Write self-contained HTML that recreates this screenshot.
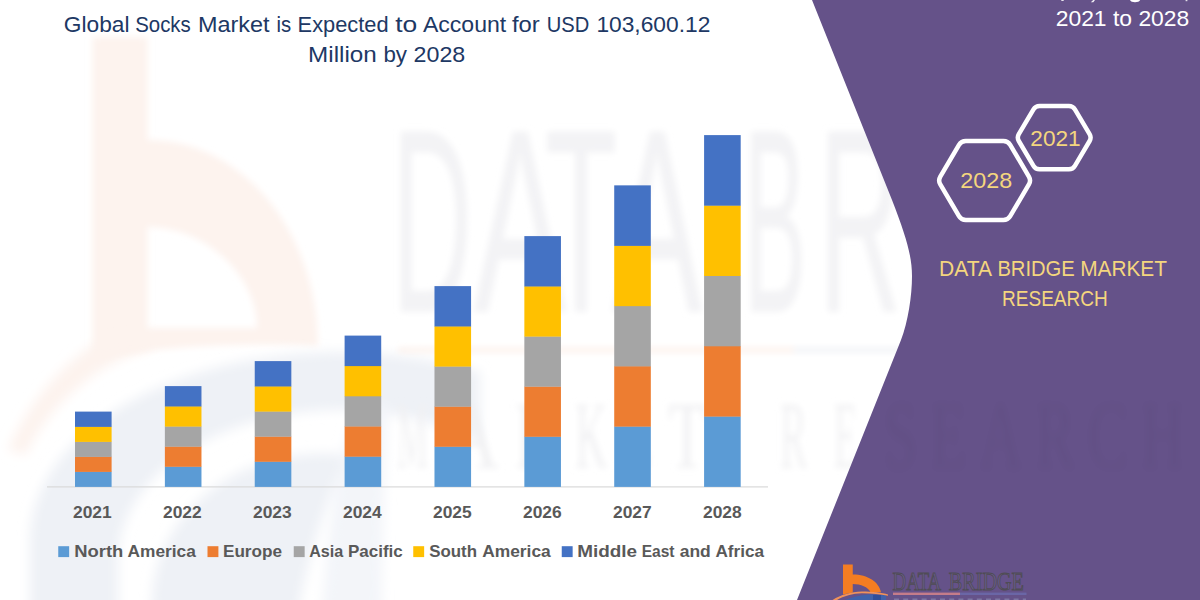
<!DOCTYPE html>
<html><head><meta charset="utf-8"><title>Global Socks Market</title>
<style>
html,body{margin:0;padding:0;background:#fff;}
body{width:1200px;height:600px;overflow:hidden;position:relative;font-family:"Liberation Sans",sans-serif;}
svg{position:absolute;left:0;top:0;display:block;}
text{font-family:"Liberation Sans",sans-serif;}
</style></head><body>
<svg width="1200" height="600" viewBox="0 0 1200 600">
<defs>
<filter id="b6" x="-20%" y="-20%" width="140%" height="140%"><feGaussianBlur stdDeviation="3.4"/></filter>
<filter id="b8" x="-20%" y="-20%" width="140%" height="140%"><feGaussianBlur stdDeviation="6"/></filter>
<filter id="b3" x="-20%" y="-20%" width="140%" height="140%"><feGaussianBlur stdDeviation="3"/></filter>
</defs>
<rect width="1200" height="600" fill="#ffffff"/>
<!-- watermark -->
<g id="wm">

<g filter="url(#b6)">
<!-- b stem + quarter-ring bowl (peach) -->
<path d="M92.5,37 L147.5,37 L147.5,140 C245,140 318,235 318,346 C250,343 150,345 92.5,362 Z M147.5,227 L147.5,328 L257,328 C257,275 205,227 147.5,227 Z" fill="#FDF3EE" fill-rule="evenodd"/>
</g>
<g filter="url(#b8)">
<!-- orange swoosh left -->
<path d="M8,450 C30,400 60,368 92.5,345 L150,336 L150,350 C110,356 50,400 26,455 Z" fill="#FDF3EE"/>
<!-- blue swoosh: outer ring + inner band -->
<clipPath id="cpb"><rect x="0" y="300" width="480" height="400"/></clipPath>
<g clip-path="url(#cpb)" fill="#EEF1F6" fill-rule="evenodd">
<path d="M30,540 A310,188 0 0 1 650,540 L650,700 L30,700 Z M118,560 A222,150 0 0 1 562,560 L562,700 L118,700 Z"/>
<path d="M152,600 A170,150 0 0 1 345,455 C330,500 300,560 285,700 L152,700 Z"/>
<path d="M318,700 C322,560 335,480 352,420 L388,400 C384,470 380,600 382,700 Z" fill="#F3F5F9"/>
</g>
</g>
<g filter="url(#b3)" fill="#F1F1F3" font-family="Liberation Serif, serif">
<g transform="translate(0,311) scale(1,2.6)" font-size="100px" fill="#F3F3F5" stroke="#F3F3F5" stroke-width="1" stroke-linejoin="round" style="vector-effect:non-scaling-stroke">
<text x="392" y="0" textLength="80" lengthAdjust="spacingAndGlyphs" vector-effect="non-scaling-stroke">D</text>
<text x="474" y="0" textLength="92" lengthAdjust="spacingAndGlyphs" vector-effect="non-scaling-stroke">A</text>
<text x="545" y="0" textLength="72" lengthAdjust="spacingAndGlyphs" vector-effect="non-scaling-stroke">T</text>
<text x="612" y="0" textLength="90" lengthAdjust="spacingAndGlyphs" vector-effect="non-scaling-stroke">A</text>
<text x="744" y="0" textLength="62" lengthAdjust="spacingAndGlyphs" vector-effect="non-scaling-stroke">B</text>
<text x="819" y="0" textLength="82" lengthAdjust="spacingAndGlyphs" vector-effect="non-scaling-stroke">R</text>
</g>
<g transform="translate(0,468) scale(1,1.6)" font-size="60px" fill="#F1F1F3">
<text x="397" y="0" textLength="31" lengthAdjust="spacingAndGlyphs" style="font-family:'Liberation Serif',serif">M</text>
<text x="445" y="0" textLength="54" lengthAdjust="spacingAndGlyphs" style="font-family:'Liberation Serif',serif">A</text>
<text x="515" y="0" textLength="43" lengthAdjust="spacingAndGlyphs" style="font-family:'Liberation Serif',serif">R</text>
<text x="575" y="0" textLength="32" lengthAdjust="spacingAndGlyphs" style="font-family:'Liberation Serif',serif">K</text>
<text x="625" y="0" textLength="27" lengthAdjust="spacingAndGlyphs" style="font-family:'Liberation Serif',serif">E</text>
<text x="668" y="0" textLength="38" lengthAdjust="spacingAndGlyphs" style="font-family:'Liberation Serif',serif">T</text>
<text x="780" y="0" textLength="27" lengthAdjust="spacingAndGlyphs" style="font-family:'Liberation Serif',serif">R</text>
<text x="834" y="0" textLength="23" lengthAdjust="spacingAndGlyphs" style="font-family:'Liberation Serif',serif">E</text>
</g>
<rect x="398" y="348" width="396" height="4" fill="#FCEEE7"/>
<rect x="794" y="348" width="120" height="4" fill="#EDF0F5"/>
</g>

</g>
<!-- purple panel -->
<path id="panel" d="M812,0 L892,200 C906,236 912,256 912,276 C912,296 908,322 901,340 L797,600 L1200,600 L1200,0 Z" fill="#655289"/>
<g transform="translate(0,468) scale(1,1.6)" font-size="60px" fill="#000000" opacity="0.022" filter="url(#b3)">
<text x="884" y="0" textLength="300" lengthAdjust="spacing" style="font-family:'Liberation Serif',serif">SEARCH</text>
</g>
<!-- axis -->
<rect x="47" y="486.3" width="721" height="1.2" fill="#D9D9D9"/>
<!-- bars -->
<rect x="75.00" y="471.60" width="36.6" height="15.30" fill="#5B9BD5"/>
<rect x="75.00" y="456.60" width="36.6" height="15.30" fill="#ED7D31"/>
<rect x="75.00" y="441.60" width="36.6" height="15.30" fill="#A5A5A5"/>
<rect x="75.00" y="426.60" width="36.6" height="15.30" fill="#FFC000"/>
<rect x="75.00" y="411.60" width="36.6" height="15.30" fill="#4472C4"/>
<rect x="164.87" y="466.50" width="36.6" height="20.40" fill="#5B9BD5"/>
<rect x="164.87" y="446.40" width="36.6" height="20.40" fill="#ED7D31"/>
<rect x="164.87" y="426.30" width="36.6" height="20.40" fill="#A5A5A5"/>
<rect x="164.87" y="406.20" width="36.6" height="20.40" fill="#FFC000"/>
<rect x="164.87" y="386.10" width="36.6" height="20.40" fill="#4472C4"/>
<rect x="254.74" y="461.50" width="36.6" height="25.40" fill="#5B9BD5"/>
<rect x="254.74" y="436.40" width="36.6" height="25.40" fill="#ED7D31"/>
<rect x="254.74" y="411.30" width="36.6" height="25.40" fill="#A5A5A5"/>
<rect x="254.74" y="386.20" width="36.6" height="25.40" fill="#FFC000"/>
<rect x="254.74" y="361.10" width="36.6" height="25.40" fill="#4472C4"/>
<rect x="344.61" y="456.40" width="36.6" height="30.50" fill="#5B9BD5"/>
<rect x="344.61" y="426.20" width="36.6" height="30.50" fill="#ED7D31"/>
<rect x="344.61" y="396.00" width="36.6" height="30.50" fill="#A5A5A5"/>
<rect x="344.61" y="365.80" width="36.6" height="30.50" fill="#FFC000"/>
<rect x="344.61" y="335.60" width="36.6" height="30.50" fill="#4472C4"/>
<rect x="434.48" y="446.50" width="36.6" height="40.40" fill="#5B9BD5"/>
<rect x="434.48" y="406.40" width="36.6" height="40.40" fill="#ED7D31"/>
<rect x="434.48" y="366.30" width="36.6" height="40.40" fill="#A5A5A5"/>
<rect x="434.48" y="326.20" width="36.6" height="40.40" fill="#FFC000"/>
<rect x="434.48" y="286.10" width="36.6" height="40.40" fill="#4472C4"/>
<rect x="524.35" y="436.50" width="36.6" height="50.40" fill="#5B9BD5"/>
<rect x="524.35" y="386.40" width="36.6" height="50.40" fill="#ED7D31"/>
<rect x="524.35" y="336.30" width="36.6" height="50.40" fill="#A5A5A5"/>
<rect x="524.35" y="286.20" width="36.6" height="50.40" fill="#FFC000"/>
<rect x="524.35" y="236.10" width="36.6" height="50.40" fill="#4472C4"/>
<rect x="614.22" y="426.35" width="36.6" height="60.55" fill="#5B9BD5"/>
<rect x="614.22" y="366.10" width="36.6" height="60.55" fill="#ED7D31"/>
<rect x="614.22" y="305.85" width="36.6" height="60.55" fill="#A5A5A5"/>
<rect x="614.22" y="245.60" width="36.6" height="60.55" fill="#FFC000"/>
<rect x="614.22" y="185.35" width="36.6" height="60.55" fill="#4472C4"/>
<rect x="704.09" y="416.30" width="36.6" height="70.60" fill="#5B9BD5"/>
<rect x="704.09" y="346.00" width="36.6" height="70.60" fill="#ED7D31"/>
<rect x="704.09" y="275.70" width="36.6" height="70.60" fill="#A5A5A5"/>
<rect x="704.09" y="205.40" width="36.6" height="70.60" fill="#FFC000"/>
<rect x="704.09" y="135.10" width="36.6" height="70.60" fill="#4472C4"/>
<!-- title -->
<g fill="#203864" font-size="21.3px">
<text x="63.8" y="32.3" textLength="65.7" lengthAdjust="spacingAndGlyphs">Global</text>
<text x="135.2" y="32.3" textLength="55.6" lengthAdjust="spacingAndGlyphs">Socks</text>
<text x="197.9" y="32.3" textLength="71.6" lengthAdjust="spacingAndGlyphs">Market</text>
<text x="276.6" y="32.3" textLength="14.7" lengthAdjust="spacingAndGlyphs">is</text>
<text x="297.6" y="32.3" textLength="91.0" lengthAdjust="spacingAndGlyphs">Expected</text>
<text x="395.2" y="32.3" textLength="22.0" lengthAdjust="spacingAndGlyphs">to</text>
<text x="422.9" y="32.3" textLength="83.3" lengthAdjust="spacingAndGlyphs">Account</text>
<text x="511.9" y="32.3" textLength="27.8" lengthAdjust="spacingAndGlyphs">for</text>
<text x="546.8" y="32.3" textLength="42.5" lengthAdjust="spacingAndGlyphs">USD</text>
<text x="596.4" y="32.3" textLength="113.9" lengthAdjust="spacingAndGlyphs">103,600.12</text>
<text x="308.1" y="61.8" textLength="68.7" lengthAdjust="spacingAndGlyphs">Million</text>
<text x="383.4" y="61.8" textLength="23.6" lengthAdjust="spacingAndGlyphs">by</text>
<text x="413.6" y="61.8" textLength="51.7" lengthAdjust="spacingAndGlyphs">2028</text>
</g>
<!-- year labels -->
<g fill="#595959" font-size="16.4px" font-weight="bold">
<text x="73" y="518.3" textLength="38.7" lengthAdjust="spacingAndGlyphs">2021</text>
<text x="163" y="518.3" textLength="38.7" lengthAdjust="spacingAndGlyphs">2022</text>
<text x="253" y="518.3" textLength="38.7" lengthAdjust="spacingAndGlyphs">2023</text>
<text x="343" y="518.3" textLength="38.7" lengthAdjust="spacingAndGlyphs">2024</text>
<text x="433" y="518.3" textLength="38.7" lengthAdjust="spacingAndGlyphs">2025</text>
<text x="523" y="518.3" textLength="38.7" lengthAdjust="spacingAndGlyphs">2026</text>
<text x="613" y="518.3" textLength="38.7" lengthAdjust="spacingAndGlyphs">2027</text>
<text x="703" y="518.3" textLength="38.7" lengthAdjust="spacingAndGlyphs">2028</text>
</g>
<!-- legend -->
<g fill="#595959" font-size="17px" font-weight="bold">
<rect x="58.25" y="546.2" width="10.9" height="10.9" fill="#5B9BD5"/>
<text x="74.20" y="557" textLength="49.10" lengthAdjust="spacingAndGlyphs">North</text>
<text x="127.50" y="557" textLength="68.30" lengthAdjust="spacingAndGlyphs">America</text>
<rect x="207.5" y="546.2" width="10.9" height="10.9" fill="#ED7D31"/>
<text x="222.95" y="557" textLength="59.10" lengthAdjust="spacingAndGlyphs">Europe</text>
<rect x="293.75" y="546.2" width="10.9" height="10.9" fill="#A5A5A5"/>
<text x="309.20" y="557" textLength="34.10" lengthAdjust="spacingAndGlyphs">Asia</text>
<text x="347.95" y="557" textLength="54.85" lengthAdjust="spacingAndGlyphs">Pacific</text>
<rect x="413.25" y="546.2" width="10.9" height="10.9" fill="#FFC000"/>
<text x="429.20" y="557" textLength="47.85" lengthAdjust="spacingAndGlyphs">South</text>
<text x="482.20" y="557" textLength="68.60" lengthAdjust="spacingAndGlyphs">America</text>
<rect x="561.75" y="546.2" width="10.9" height="10.9" fill="#4472C4"/>
<text x="577.20" y="557" textLength="59.85" lengthAdjust="spacingAndGlyphs">Middle</text>
<text x="641.70" y="557" textLength="32.85" lengthAdjust="spacingAndGlyphs">East</text>
<text x="679.70" y="557" textLength="31.10" lengthAdjust="spacingAndGlyphs">and</text>
<text x="715.45" y="557" textLength="48.60" lengthAdjust="spacingAndGlyphs">Africa</text>
</g>
<!-- right panel text -->
<g fill="#ffffff" font-size="21.6px">
<text x="1055.7" y="26.3" textLength="133.6" lengthAdjust="spacingAndGlyphs">2021 to 2028</text>
</g>
<g fill="#ffffff">
<rect x="1061.3" y="0" width="2.4" height="1" opacity="0.85"/>
<path d="M1093.2,0 L1095,0 L1093.3,2.2 L1090.8,2.2 Z" opacity="0.9"/>
<path d="M1130,0 C1131,3 1139,3 1140.2,0 Z"/>
<rect x="1185.6" y="0" width="1.8" height="1.2" opacity="0.8"/>
</g>
<g fill="none" stroke="#ffffff" stroke-width="4.5" stroke-linejoin="round">
<path d="M940.3,184.4 Q938.0,180.5 940.3,176.6 L959.0,144.8 Q961.3,140.9 965.8,140.9 L1003.4,140.9 Q1007.9,140.9 1010.2,144.8 L1028.9,176.6 Q1031.2,180.5 1028.9,184.4 L1010.2,216.2 Q1007.9,220.1 1003.4,220.1 L965.8,220.1 Q961.3,220.1 959.0,216.2 Z"/>
<path d="M1018.8,141.0 Q1016.8,137.6 1018.8,134.2 L1033.5,109.4 Q1035.5,106.0 1039.5,106.0 L1068.9,106.0 Q1072.9,106.0 1074.9,109.4 L1089.6,134.2 Q1091.6,137.6 1089.6,141.0 L1074.9,165.8 Q1072.9,169.2 1068.9,169.2 L1039.5,169.2 Q1035.5,169.2 1033.5,165.8 Z"/>
</g>
<g fill="#F4D67E" font-size="22.9px">
<text x="960.3" y="188.4" textLength="52" lengthAdjust="spacingAndGlyphs">2028</text>
<text x="1030.3" y="145.8" textLength="50.4" lengthAdjust="spacingAndGlyphs">2021</text>
</g>
<g fill="#F4D67E" font-size="22.3px">
<text x="939.0" y="275.7" textLength="53.0" lengthAdjust="spacingAndGlyphs">DATA</text>
<text x="997.4" y="275.7" textLength="77.4" lengthAdjust="spacingAndGlyphs">BRIDGE</text>
<text x="1080.2" y="275.7" textLength="86.8" lengthAdjust="spacingAndGlyphs">MARKET</text>
<text x="1002" y="305.5" textLength="105.8" lengthAdjust="spacingAndGlyphs">RESEARCH</text>
</g>
<!-- logo -->
<g id="logo">

<g>
<path d="M843,564.4 L852.75,564.4 L852.75,574.5 C868,574.5 879,582 881,592.2 L870.5,592.2 C868,587 861,584 852.75,584 L852.75,592.5 L843,594.5 Z" fill="#F47D22"/>
<path d="M843,601 C850,597.5 860,595 872,594.2 L886,595.2 L886,601 Z" fill="#4062AB"/>
<rect x="873" y="595" width="8" height="5" fill="#2F4F9A"/>
<path d="M831,601 C840,595 850,592 862,591.5 C872,591.5 882,592.5 888,594.5 L888,595.8 C880,594.2 872,593.3 862,593.3 C852,593.6 842,596.5 835.5,601 Z" fill="#F0925A"/>
<g font-size="26.2px" fill="#6A5C8B" stroke="#4F4C55" stroke-width="1">
<text x="892.6" y="590.3" textLength="48.6" lengthAdjust="spacingAndGlyphs" style="font-family:'Liberation Serif',serif">DATA</text>
<text x="948.8" y="590.3" textLength="75" lengthAdjust="spacingAndGlyphs" style="font-family:'Liberation Serif',serif">BRIDGE</text>
</g>
<rect x="893" y="592.6" width="67" height="2.4" fill="#C47C8A"/>
<rect x="960" y="592.6" width="66.5" height="2.4" fill="#6A66A6"/>
<path d="M894,599.2 L1026,599.2" stroke="#7d76a4" stroke-width="1.6" stroke-dasharray="5 4.2" fill="none"/>
</g>

</g>
</svg>
</body></html>
